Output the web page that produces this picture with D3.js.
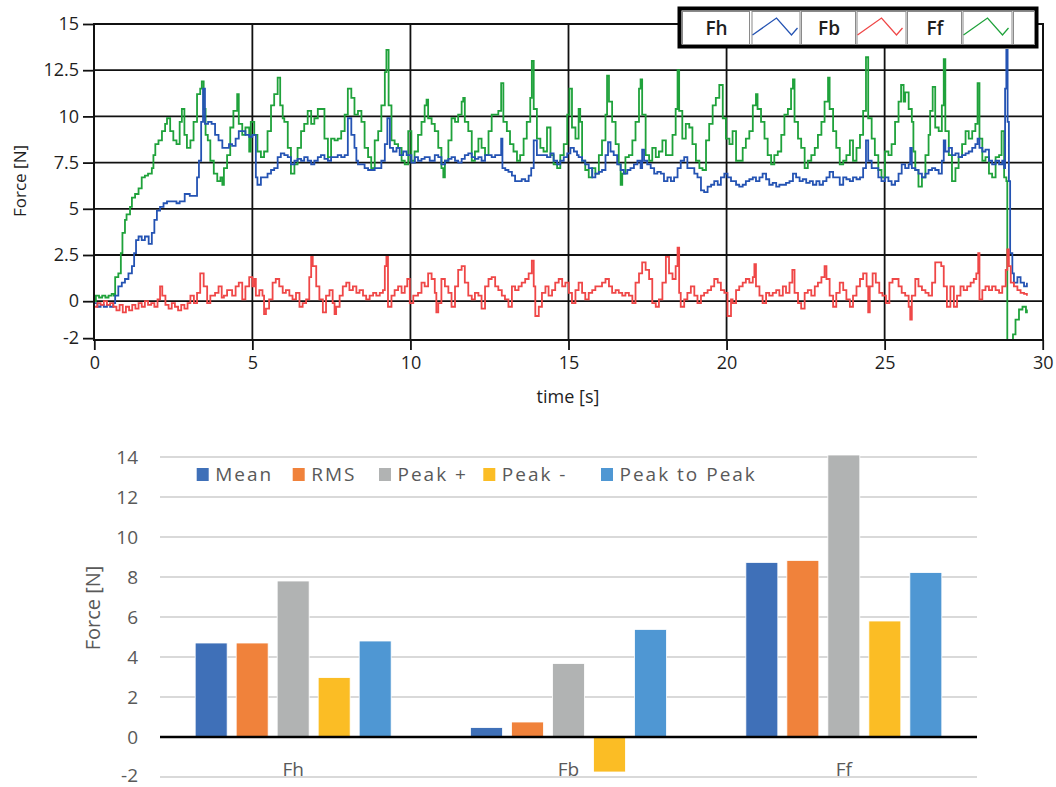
<!DOCTYPE html>
<html><head><meta charset="utf-8">
<script src="https://cdn.jsdelivr.net/npm/d3@7"></script>
<style>
html,body{margin:0;padding:0;background:#fff;}
svg{display:block;}
</style></head>
<body>
<svg id="c" width="1056" height="787"></svg>
<script>
// ---------- DATA: time series (t [s], force [N]) ----------
const seriesNames = ["Fh", "Fb", "Ff"];
const fhData = [[0,-0.1],[0.1,-0.3],[0.2,-0.2],[0.3,-0.3],[0.4,-0.2],[0.5,-0.3],[0.6,-0.1],[0.66,0.3],[0.76,0.8],[0.87,1.0],[0.97,1.2],[1.08,1.5],[1.19,1.9],[1.26,2.6],[1.32,3.3],[1.4,3.5],[1.5,3.3],[1.6,3.5],[1.72,3.1],[1.82,3.7],[1.9,4.4],[1.98,4.9],[2.08,5.1],[2.19,5.3],[2.3,5.4],[2.44,5.4],[2.6,5.3],[2.7,5.4],[2.86,5.8],[3.02,5.7],[3.18,5.7],[3.25,6.7],[3.31,7.6],[3.38,9.7],[3.44,11.5],[3.5,9.6],[3.6,9.7],[3.71,9.6],[3.82,9.0],[3.93,8.7],[4.05,8.3],[4.15,8.3],[4.26,8.5],[4.36,8.4],[4.47,8.8],[4.57,9.2],[4.68,9.2],[4.78,9.0],[4.9,8.9],[5.0,9.0],[5.06,9.0],[5.11,6.7],[5.16,6.3],[5.27,6.7],[5.37,6.7],[5.48,6.9],[5.59,7.1],[5.69,7.2],[5.8,7.8],[5.9,8.0],[6.01,7.9],[6.12,7.8],[6.22,7.4],[6.33,7.6],[6.43,7.7],[6.54,7.6],[6.64,7.8],[6.75,7.6],[6.86,7.4],[6.96,7.6],[7.07,7.8],[7.17,7.9],[7.28,7.7],[7.39,7.6],[7.49,7.8],[7.6,7.8],[7.7,7.9],[7.81,7.8],[7.92,7.9],[8.02,9.9],[8.13,9.0],[8.23,8.3],[8.29,7.6],[8.34,7.4],[8.45,7.4],[8.55,7.2],[8.66,7.1],[8.76,7.1],[8.87,7.2],[8.98,7.2],[9.08,7.6],[9.19,8.5],[9.27,9.9],[9.35,8.3],[9.45,8.1],[9.56,8.3],[9.66,7.9],[9.77,8.1],[9.88,7.9],[9.98,7.9],[10.03,7.5],[10.14,7.8],[10.24,7.6],[10.35,7.7],[10.45,7.8],[10.61,7.6],[10.77,7.9],[10.88,7.8],[10.98,7.4],[11.09,7.6],[11.2,7.7],[11.3,7.8],[11.41,7.6],[11.51,7.5],[11.62,7.7],[11.72,7.9],[11.83,8.0],[11.94,7.8],[12.04,7.7],[12.15,7.8],[12.25,7.6],[12.36,7.9],[12.47,7.9],[12.57,7.8],[12.68,7.9],[12.78,7.9],[12.87,8.8],[12.91,7.2],[13.0,7.1],[13.1,7.0],[13.21,6.8],[13.31,6.5],[13.42,6.5],[13.52,6.6],[13.63,6.5],[13.74,6.8],[13.82,7.2],[13.9,8.7],[14.0,7.9],[14.11,7.9],[14.21,7.9],[14.32,7.8],[14.43,8.0],[14.53,7.6],[14.64,7.4],[14.74,7.6],[14.85,7.8],[14.96,8.0],[15.06,8.3],[15.17,8.1],[15.27,7.9],[15.32,7.8],[15.43,7.6],[15.53,7.4],[15.64,7.2],[15.75,6.7],[15.85,6.9],[15.96,7.0],[16.06,7.1],[16.17,7.9],[16.25,8.6],[16.33,8.1],[16.43,7.9],[16.54,7.4],[16.65,7.1],[16.75,6.9],[16.86,7.1],[16.96,7.2],[17.07,7.4],[17.18,7.6],[17.28,7.2],[17.33,8.2],[17.39,7.6],[17.49,7.4],[17.6,7.2],[17.71,6.9],[17.81,7.0],[17.92,6.9],[18.02,6.5],[18.13,6.7],[18.24,6.5],[18.34,6.7],[18.45,7.2],[18.55,7.6],[18.66,7.8],[18.76,7.2],[18.87,7.2],[18.98,6.9],[19.08,6.7],[19.19,6.0],[19.29,5.9],[19.4,6.2],[19.51,6.3],[19.61,6.5],[19.72,6.3],[19.82,6.7],[19.93,6.9],[20.03,6.7],[20.14,6.5],[20.3,6.3],[20.4,6.2],[20.51,6.3],[20.61,6.5],[20.72,6.6],[20.83,6.7],[20.93,6.5],[21.04,6.7],[21.14,6.9],[21.25,6.6],[21.35,6.3],[21.46,6.4],[21.57,6.2],[21.67,6.3],[21.78,6.3],[21.88,6.4],[21.99,6.5],[22.1,6.9],[22.2,6.7],[22.31,6.5],[22.41,6.6],[22.52,6.4],[22.63,6.5],[22.73,6.3],[22.84,6.5],[22.94,6.3],[23.05,6.5],[23.16,6.7],[23.26,7.0],[23.37,6.7],[23.47,6.7],[23.58,6.3],[23.69,6.7],[23.79,6.6],[23.9,6.5],[24.0,6.7],[24.11,6.6],[24.22,6.7],[24.32,7.2],[24.41,8.7],[24.48,7.6],[24.59,7.2],[24.69,7.2],[24.8,6.7],[24.9,6.5],[25.01,6.7],[25.12,6.5],[25.22,6.3],[25.33,6.5],[25.44,6.9],[25.54,7.4],[25.65,7.2],[25.76,7.4],[25.81,8.3],[25.86,7.2],[25.97,7.1],[26.07,6.9],[26.18,6.7],[26.29,6.9],[26.39,7.1],[26.5,7.2],[26.6,7.1],[26.71,6.9],[26.81,7.6],[26.87,8.7],[26.92,8.1],[27.03,8.3],[27.13,7.9],[27.24,8.0],[27.34,7.8],[27.45,7.9],[27.56,8.0],[27.66,8.1],[27.77,8.3],[27.87,8.5],[27.94,8.8],[28.0,8.3],[28.09,8.1],[28.19,8.2],[28.3,7.6],[28.4,7.4],[28.51,7.6],[28.62,7.4],[28.72,7.6],[28.78,7.2],[28.81,11.5],[28.85,13.6],[28.89,9.7],[28.93,6.5],[28.97,2.6],[29.04,1.5],[29.09,1.0],[29.2,1.3],[29.3,1.0],[29.41,0.8],[29.5,1.0]];
const fbData = [[0,-0.3],[0.1,-0.1],[0.2,-0.2],[0.3,0.0],[0.4,-0.2],[0.5,-0.1],[0.6,-0.3],[0.7,-0.5],[0.8,-0.2],[0.9,-0.6],[1.0,-0.3],[1.1,-0.5],[1.2,-0.2],[1.3,-0.4],[1.4,-0.1],[1.5,-0.3],[1.6,0.0],[1.7,-0.2],[1.8,-0.1],[1.9,-0.3],[2.0,0.1],[2.08,0.8],[2.15,0.3],[2.25,-0.2],[2.35,-0.4],[2.45,-0.1],[2.55,-0.3],[2.65,-0.5],[2.75,-0.2],[2.85,-0.4],[2.95,-0.1],[3.04,0.3],[3.15,-0.1],[3.25,0.45],[3.35,1.5],[3.46,0.8],[3.57,-0.1],[3.67,0.3],[3.82,0.45],[3.93,0.8],[4.03,0.2],[4.1,0.3],[4.2,0.6],[4.36,0.3],[4.47,0.8],[4.57,1.0],[4.68,0.1],[4.78,0.8],[4.9,1.3],[5.0,0.8],[5.06,1.2],[5.11,0.3],[5.22,0.6],[5.32,0.3],[5.37,-0.7],[5.43,-0.4],[5.53,0.1],[5.64,1.0],[5.74,1.2],[5.85,0.8],[5.96,0.45],[6.06,0.6],[6.17,0.3],[6.27,0.1],[6.38,0.45],[6.49,-0.3],[6.59,-0.1],[6.7,0.1],[6.8,1.3],[6.86,2.4],[6.91,1.9],[7.02,0.8],[7.12,0.1],[7.23,-0.6],[7.33,0.3],[7.44,0.6],[7.54,-0.1],[7.6,-0.7],[7.65,-0.3],[7.76,0.3],[7.86,0.8],[7.97,1.0],[8.07,0.6],[8.18,0.8],[8.29,0.45],[8.39,0.6],[8.5,0.3],[8.6,0.1],[8.71,0.3],[8.82,0.45],[8.92,0.3],[9.03,0.45],[9.13,0.6],[9.19,1.9],[9.24,2.4],[9.29,-0.3],[9.4,0.3],[9.5,0.6],[9.61,0.8],[9.72,0.45],[9.82,0.8],[9.9,1.2],[9.98,-0.1],[10.09,0.3],[10.13,0.3],[10.24,0.45],[10.35,1.0],[10.45,0.8],[10.56,1.5],[10.67,1.2],[10.77,0.45],[10.82,-0.6],[10.88,-0.1],[10.98,1.2],[11.09,0.8],[11.2,0.45],[11.3,-0.3],[11.41,0.8],[11.51,1.7],[11.62,1.9],[11.72,1.0],[11.83,0.3],[11.94,0.1],[12.04,0.45],[12.15,0.3],[12.25,-0.4],[12.36,0.8],[12.47,1.2],[12.57,1.3],[12.68,0.8],[12.78,0.6],[12.89,0.3],[12.99,0.1],[13.1,-0.3],[13.21,0.8],[13.31,0.6],[13.42,0.8],[13.52,1.0],[13.63,1.2],[13.74,1.5],[13.84,2.2],[13.9,0.8],[13.95,-0.8],[14.06,-0.3],[14.16,0.45],[14.27,0.8],[14.37,0.3],[14.48,0.6],[14.58,1.0],[14.69,1.2],[14.8,0.8],[14.9,1.0],[15.01,0.45],[15.11,-0.1],[15.22,0.6],[15.32,1.0],[15.43,0.45],[15.53,0.1],[15.64,0.45],[15.75,0.6],[15.85,0.8],[15.96,0.8],[16.06,1.0],[16.17,1.2],[16.28,0.8],[16.38,0.45],[16.49,0.6],[16.59,0.45],[16.7,0.3],[16.8,0.45],[16.91,0.3],[17.02,-0.1],[17.12,1.0],[17.23,1.5],[17.33,2.1],[17.44,1.7],[17.55,1.2],[17.65,-0.1],[17.76,-0.3],[17.86,0.1],[17.97,1.0],[18.08,2.4],[18.18,1.5],[18.29,1.2],[18.39,1.9],[18.45,2.9],[18.5,0.45],[18.55,-0.3],[18.66,0.1],[18.76,0.45],[18.87,0.8],[18.98,0.3],[19.08,-0.1],[19.19,0.3],[19.29,0.45],[19.4,0.6],[19.51,0.8],[19.61,1.2],[19.72,1.0],[19.82,0.6],[19.93,0.45],[20.03,-0.8],[20.14,0.1],[20.19,-0.1],[20.3,0.6],[20.4,0.8],[20.51,1.0],[20.61,1.2],[20.72,1.0],[20.83,1.3],[20.88,2.0],[20.93,0.8],[21.04,0.3],[21.14,-0.1],[21.25,0.45],[21.35,0.3],[21.46,0.45],[21.57,0.6],[21.67,0.3],[21.78,0.8],[21.88,0.45],[21.99,1.0],[22.08,1.7],[22.15,0.45],[22.26,-0.1],[22.36,-0.4],[22.47,0.45],[22.57,0.6],[22.68,0.3],[22.79,0.8],[22.89,1.0],[23.0,1.3],[23.1,1.9],[23.16,1.2],[23.26,0.3],[23.37,-0.3],[23.47,0.45],[23.58,1.0],[23.69,0.6],[23.79,0.1],[23.9,-0.3],[24.0,0.3],[24.11,0.8],[24.22,1.2],[24.32,1.5],[24.43,0.8],[24.48,-0.6],[24.53,0.8],[24.62,1.5],[24.72,1.0],[24.83,0.45],[24.93,0.3],[25.04,-0.1],[25.15,1.0],[25.25,1.2],[25.33,1.2],[25.44,0.8],[25.54,0.45],[25.65,0.3],[25.76,-0.3],[25.81,-1.0],[25.86,0.3],[25.97,1.2],[26.07,0.8],[26.18,0.6],[26.29,0.45],[26.39,0.3],[26.5,1.0],[26.6,2.1],[26.71,2.1],[26.79,1.9],[26.87,0.8],[26.97,-0.3],[27.08,0.8],[27.19,-0.3],[27.29,0.3],[27.4,0.8],[27.5,0.6],[27.61,0.8],[27.72,1.0],[27.82,1.2],[27.9,1.5],[27.96,2.6],[28.0,0.1],[28.09,0.6],[28.19,0.8],[28.3,0.6],[28.4,0.8],[28.51,0.6],[28.62,0.45],[28.72,0.8],[28.83,1.7],[28.88,2.8],[28.93,1.9],[28.99,1.0],[29.09,0.8],[29.2,0.6],[29.3,0.45],[29.41,0.4],[29.5,0.3]];
const ffData = [[0,0.0],[0.05,0.3],[0.15,0.2],[0.25,0.3],[0.35,0.2],[0.45,0.3],[0.55,0.4],[0.62,0.3],[0.66,1.3],[0.76,1.5],[0.84,2.6],[0.89,3.7],[0.97,4.4],[1.02,4.7],[1.13,5.1],[1.19,5.6],[1.29,5.8],[1.4,6.1],[1.5,6.7],[1.6,6.8],[1.7,6.9],[1.82,7.2],[1.87,7.9],[1.93,8.5],[2.03,8.7],[2.14,9.2],[2.24,9.6],[2.3,9.9],[2.4,9.2],[2.5,8.7],[2.6,8.5],[2.7,9.7],[2.77,10.4],[2.85,9.0],[2.93,8.3],[3.04,8.7],[3.14,9.7],[3.25,11.2],[3.35,11.5],[3.4,11.9],[3.46,10.4],[3.52,9.0],[3.59,8.7],[3.67,7.6],[3.78,6.9],[3.89,6.5],[3.99,6.7],[4.05,6.3],[4.1,7.2],[4.2,7.9],[4.3,9.4],[4.4,10.3],[4.52,11.2],[4.57,9.6],[4.68,9.0],[4.78,9.4],[4.9,8.1],[4.95,9.7],[5.06,9.0],[5.16,8.1],[5.27,7.8],[5.37,8.1],[5.48,9.2],[5.59,10.6],[5.69,11.2],[5.8,12.1],[5.88,10.6],[5.96,9.9],[6.01,9.7],[6.12,8.3],[6.22,6.9],[6.33,7.4],[6.43,8.3],[6.54,9.2],[6.64,9.6],[6.75,10.3],[6.86,9.6],[6.96,9.9],[7.07,10.4],[7.17,10.4],[7.28,8.8],[7.39,7.8],[7.49,8.8],[7.6,8.7],[7.7,8.8],[7.81,9.2],[7.92,10.1],[8.02,11.5],[8.13,11.0],[8.23,10.1],[8.34,10.3],[8.45,9.7],[8.55,8.3],[8.66,7.8],[8.76,7.2],[8.87,8.7],[8.98,9.2],[9.08,10.6],[9.19,12.4],[9.24,13.6],[9.31,10.6],[9.4,8.7],[9.5,8.5],[9.61,8.3],[9.72,7.6],[9.82,7.4],[9.93,9.2],[10.03,7.6],[10.13,8.1],[10.24,9.0],[10.35,9.7],[10.45,10.6],[10.51,10.9],[10.56,9.9],[10.67,9.6],[10.77,9.2],[10.88,8.3],[10.98,7.2],[11.04,6.7],[11.09,7.6],[11.2,8.7],[11.3,9.9],[11.41,9.7],[11.51,10.1],[11.62,10.8],[11.67,11.0],[11.72,9.7],[11.83,9.2],[11.94,7.6],[12.04,8.1],[12.15,8.8],[12.25,8.3],[12.36,7.9],[12.47,9.2],[12.57,10.1],[12.68,10.1],[12.78,10.3],[12.87,11.8],[12.94,9.7],[13.05,9.2],[13.15,8.5],[13.26,8.1],[13.37,7.6],[13.47,7.9],[13.58,8.8],[13.68,9.7],[13.79,11.0],[13.84,13.0],[13.9,10.4],[14.0,8.8],[14.11,8.3],[14.21,8.1],[14.32,9.4],[14.43,7.9],[14.53,7.4],[14.64,7.2],[14.74,7.9],[14.85,8.5],[14.96,10.1],[15.03,11.5],[15.11,9.4],[15.22,8.8],[15.32,10.4],[15.37,9.7],[15.43,7.6],[15.53,7.1],[15.64,6.7],[15.75,7.2],[15.85,6.9],[15.96,7.9],[16.06,8.7],[16.17,10.1],[16.22,12.2],[16.28,10.8],[16.38,9.7],[16.49,8.5],[16.59,7.4],[16.65,6.3],[16.7,6.9],[16.8,7.8],[16.91,7.9],[17.02,8.7],[17.12,9.7],[17.23,11.5],[17.28,12.0],[17.33,10.1],[17.44,7.9],[17.55,7.6],[17.65,8.3],[17.76,7.8],[17.86,8.1],[17.97,8.7],[18.08,7.9],[18.18,7.9],[18.29,9.0],[18.39,10.4],[18.45,12.5],[18.5,10.3],[18.6,8.8],[18.71,9.6],[18.82,9.4],[18.92,8.5],[19.03,7.6],[19.14,7.2],[19.24,7.1],[19.35,8.7],[19.45,9.6],[19.56,10.6],[19.66,11.0],[19.77,11.7],[19.88,9.9],[19.98,8.8],[20.09,8.5],[20.19,9.2],[20.3,7.6],[20.4,7.6],[20.51,8.3],[20.61,8.8],[20.72,9.2],[20.83,10.6],[20.93,11.2],[20.98,10.4],[21.09,9.7],[21.2,8.8],[21.3,7.9],[21.41,7.4],[21.51,7.9],[21.62,8.1],[21.73,9.0],[21.83,10.1],[21.94,10.4],[22.04,11.5],[22.1,12.0],[22.15,9.7],[22.26,8.8],[22.36,8.3],[22.47,7.2],[22.57,7.6],[22.68,7.9],[22.79,8.3],[22.89,9.0],[23.0,9.7],[23.1,10.8],[23.21,12.1],[23.26,10.4],[23.37,9.2],[23.47,8.3],[23.58,7.4],[23.69,7.6],[23.79,7.9],[23.9,8.7],[24.0,7.6],[24.11,8.3],[24.22,9.0],[24.32,10.3],[24.41,13.2],[24.48,9.9],[24.59,8.8],[24.69,7.9],[24.8,7.1],[24.9,6.7],[25.01,8.1],[25.12,7.9],[25.22,8.5],[25.33,9.7],[25.44,10.8],[25.52,11.7],[25.6,10.8],[25.65,11.3],[25.76,10.4],[25.86,9.7],[25.91,8.1],[25.97,7.1],[26.07,6.2],[26.18,6.7],[26.29,7.9],[26.39,9.0],[26.44,10.3],[26.52,11.6],[26.6,9.4],[26.71,9.2],[26.81,10.6],[26.87,13.1],[26.92,9.2],[27.03,7.9],[27.13,6.5],[27.24,7.2],[27.34,7.8],[27.45,8.5],[27.56,9.2],[27.66,8.8],[27.77,9.2],[27.87,9.6],[27.94,11.8],[28.0,8.8],[28.09,7.6],[28.19,7.8],[28.3,6.9],[28.4,6.7],[28.51,7.8],[28.62,7.9],[28.7,9.2],[28.78,6.7],[28.85,6.5],[28.88,-3.0],[29.02,-2.3],[29.06,-1.8],[29.14,-1.0],[29.25,-0.45],[29.36,-0.3],[29.47,-0.6],[29.5,-0.45]];
const lineTicksY = [-2, 0, 2.5, 5, 7.5, 10, 12.5, 15];
const lineTicksX = [0, 5, 10, 15, 20, 25, 30];

// ---------- DATA: statistics bar chart ----------
const barCategories = ["Fh", "Fb", "Ff"];
const statNames = ["Mean", "RMS", "Peak +", "Peak -", "Peak to Peak"];
const meanValues = [4.7, 0.47, 8.73];
const rmsValues = [4.7, 0.75, 8.83];
const peakPlusValues = [7.8, 3.67, 14.1];
const peakMinusValues = [2.97, -1.75, 5.8];
const peakToPeakValues = [4.8, 5.38, 8.22];
const barTicksY = [-2, 0, 2, 4, 6, 8, 10, 12, 14];

// ---------- STYLES ----------
const lineColors = {Fh: "#2453b3", Fb: "#ef4747", Ff: "#1fa23b"};
const barColors = ["#3f70b8", "#f0823b", "#b1b3b3", "#fbbd25", "#4f97d3"];
const legendSquareX = [196.7, 292.7, 379, 483.3, 601];

const svg = d3.select("#c");

// ================= TOP: time series =================
const L = {left: 94, right: 1043, top: 24, bottom: 340};
const x = d3.scaleLinear().domain([0, 30]).range([94.3, 1042.7]);
const y = d3.scaleLinear().domain([-2.1, 15]).range([L.bottom, L.top]);
const topFont = "'Open Sans', 'Noto Sans', sans-serif";

const gTop = svg.append("g");
gTop.append("g").selectAll("line").data(lineTicksY.filter(v => v > -2 && v < 15)).join("line")
  .attr("x1", L.left).attr("x2", L.right).attr("y1", d => y(d)).attr("y2", d => y(d))
  .attr("stroke", "#111").attr("stroke-width", 1.8);
gTop.append("g").selectAll("line").data(lineTicksX.filter(v => v > 0 && v < 30)).join("line")
  .attr("x1", d => x(d)).attr("x2", d => x(d)).attr("y1", L.top).attr("y2", L.bottom)
  .attr("stroke", "#111").attr("stroke-width", 1.8);

const yAxis = d3.axisLeft(y).tickValues(lineTicksY).tickSize(11).tickPadding(4).tickFormat(d => String(d));
const gy = gTop.append("g").attr("transform", `translate(${L.left},0)`).call(yAxis);
gy.select(".domain").remove();
gy.selectAll(".tick line").attr("stroke", "#111").attr("stroke-width", 1.8);
gy.selectAll(".tick text").attr("font-family", topFont).attr("font-size", 18).attr("fill", "#1e1e1e");

const xAxis = d3.axisBottom(x).tickValues(lineTicksX).tickSize(10).tickPadding(6).tickFormat(d => String(d));
const gx = gTop.append("g").attr("transform", `translate(0,${L.bottom})`).call(xAxis);
gx.select(".domain").remove();
gx.selectAll(".tick line").attr("stroke", "#111").attr("stroke-width", 1.8);
gx.selectAll(".tick text").attr("font-family", topFont).attr("font-size", 18).attr("fill", "#1e1e1e");

svg.append("defs").append("clipPath").attr("id", "plotclip").append("rect")
  .attr("x", L.left).attr("y", L.top).attr("width", L.right - L.left).attr("height", L.bottom - L.top);

const line = d3.line().x(d => x(d[0])).y(d => y(d[1])).curve(d3.curveStepAfter);
const gLines = gTop.append("g").attr("clip-path", "url(#plotclip)");
const lineSeries = [["Ff", ffData], ["Fh", fhData], ["Fb", fbData]];
gLines.selectAll("path").data(lineSeries).join("path")
  .attr("d", d => line(d[1])).attr("fill", "none")
  .attr("stroke", d => lineColors[d[0]]).attr("stroke-width", 1.8).attr("stroke-linejoin", "miter");

gTop.append("rect").attr("x", L.left).attr("y", L.top).attr("width", L.right - L.left).attr("height", L.bottom - L.top)
  .attr("fill", "none").attr("stroke", "#111").attr("stroke-width", 2);

gTop.append("text").attr("x", 568).attr("y", 403).attr("text-anchor", "middle")
  .attr("font-family", topFont).attr("font-size", 18).attr("fill", "#1e1e1e").text("time [s]");
gTop.append("text").attr("transform", `translate(26,181) rotate(-90)`).attr("text-anchor", "middle")
  .attr("font-family", topFont).attr("font-size", 17).attr("fill", "#1e1e1e").text("Force [N]");

// legend (top)
const leg = gTop.append("g");
leg.append("rect").attr("x", 679.5).attr("y", 8.5).attr("width", 357).attr("height", 38)
  .attr("fill", "#fff").attr("stroke", "#000").attr("stroke-width", 4);
const cellX = [[682, 749], [751.5, 799.5], [801, 855], [856.5, 905.5], [907, 961], [962.5, 1011.5], [1013, 1034]];
leg.selectAll("rect.cell").data(cellX).join("rect").attr("class", "cell")
  .attr("x", d => d[0] + 0.5).attr("y", 11.5).attr("width", d => d[1] - d[0]).attr("height", 33)
  .attr("fill", "#fff").attr("stroke", "#8a8a8a").attr("stroke-width", 1);
seriesNames.forEach((name, i) => {
  const tc = cellX[i * 2], lc = cellX[i * 2 + 1];
  leg.append("text").attr("x", (tc[0] + tc[1]) / 2 + 1).attr("y", 35).attr("text-anchor", "middle")
    .attr("font-family", topFont).attr("font-size", 19).attr("font-weight", 600).attr("fill", "#1e1e1e").text(name);
  const x0 = lc[0];
  leg.append("polyline").attr("points", `${x0 + 1},35 ${x0 + 25},18 ${x0 + 40},35 ${x0 + 46},28`)
    .attr("fill", "none").attr("stroke", lineColors[name]).attr("stroke-width", 1.3);
});

// ================= BOTTOM: bar chart =================
const B = {left: 160, right: 977};
const yb = d3.scaleLinear().domain([-2, 14]).range([777, 457]);
const xb = d3.scaleBand().domain(barCategories).range([155.5, 981.5]);
const xs = d3.scaleBand().domain(statNames).range([0, 205]).paddingInner(0.22).paddingOuter(0.11);
const barFont = "'Open Sans', 'Noto Sans', sans-serif";
const gray = "#595959";

const gB = svg.append("g");
gB.append("g").selectAll("line").data(barTicksY.filter(v => v !== 0)).join("line")
  .attr("x1", B.left).attr("x2", B.right).attr("y1", d => yb(d)).attr("y2", d => yb(d))
  .attr("stroke", "#d9d9d9").attr("stroke-width", 1.8);

const ybAxis = d3.axisLeft(yb).tickValues(barTicksY).tickSize(0).tickPadding(0).tickFormat(d => String(d));
const gyb = gB.append("g").attr("transform", `translate(138,0)`).call(ybAxis);
gyb.select(".domain").remove();
gyb.selectAll(".tick text").attr("font-family", barFont).attr("font-size", 19).attr("fill", gray)
  .attr("dy", d => d === -2 ? "0.22em" : "0.32em");

const statValues = [meanValues, rmsValues, peakPlusValues, peakMinusValues, peakToPeakValues];
const barData = [];
barCategories.forEach((c, ci) => statNames.forEach((s, si) => barData.push({c, s, si, v: statValues[si][ci]})));
gB.append("g").selectAll("rect").data(barData).join("rect")
  .attr("x", d => xb(d.c) + xb.bandwidth() / 2 - 102.5 + xs(d.s))
  .attr("width", xs.bandwidth())
  .attr("y", d => yb(Math.max(0, d.v)))
  .attr("height", d => Math.abs(yb(d.v) - yb(0)))
  .attr("fill", d => barColors[d.si]).attr("stroke", "#fff").attr("stroke-width", 0.8);

gB.append("line").attr("x1", B.left).attr("x2", B.right).attr("y1", yb(0)).attr("y2", yb(0))
  .attr("stroke", "#000").attr("stroke-width", 2.4);

gB.append("g").selectAll("text").data(barCategories).join("text")
  .attr("x", d => xb(d) + xb.bandwidth() / 2).attr("y", 776).attr("text-anchor", "middle")
  .attr("font-family", barFont).attr("font-size", 19).attr("fill", gray).text(d => d);

gB.append("text").attr("transform", "translate(100,608) rotate(-90)").attr("text-anchor", "middle")
  .attr("font-family", barFont).attr("font-size", 20).attr("fill", gray).text("Force [N]");

// legend (bottom)
const lg = gB.append("g");
statNames.forEach((s, i) => {
  const lx = legendSquareX[i];
  lg.append("rect").attr("x", lx).attr("y", 468).attr("width", 12).attr("height", 13).attr("fill", barColors[i]);
  lg.append("text").attr("x", lx + 18.5).attr("y", 481).attr("font-family", barFont)
    .attr("font-size", 19).attr("letter-spacing", 2).attr("fill", gray).text(s);
});
</script>
</body></html>
